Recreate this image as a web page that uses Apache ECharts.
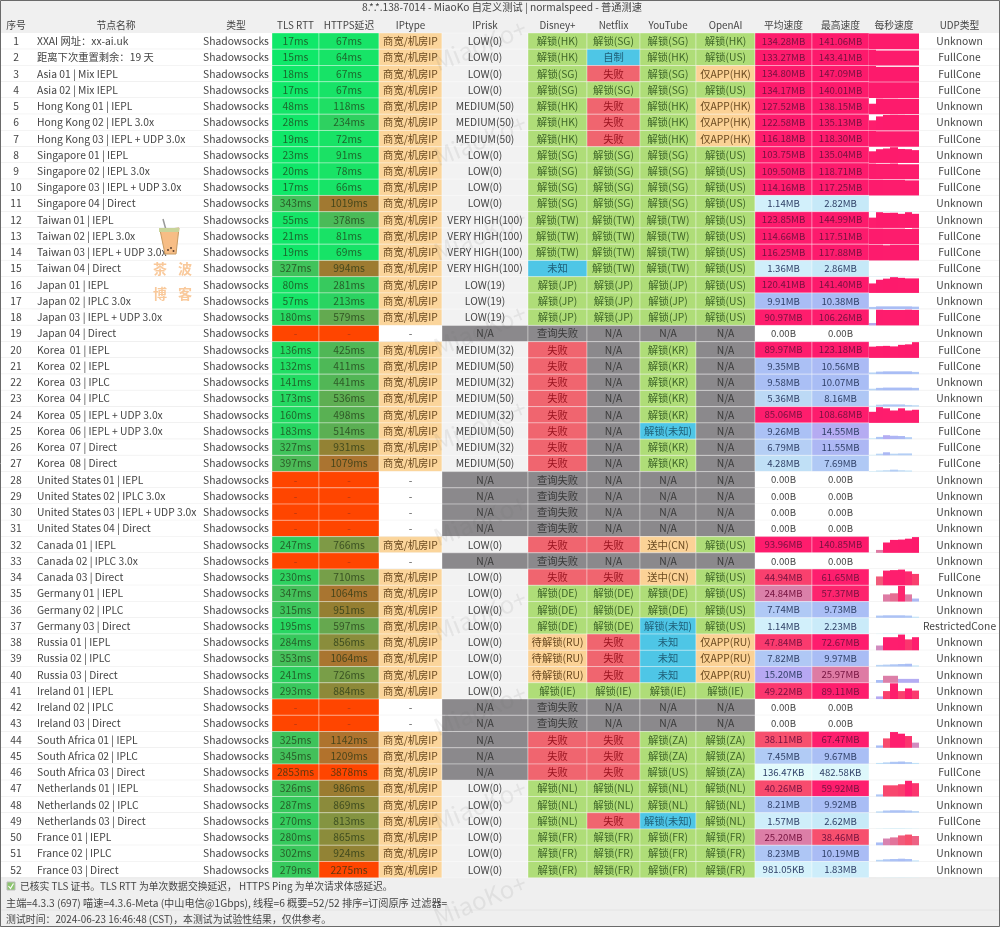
<!DOCTYPE html>
<html>
<head>
<meta charset="utf-8">
<title>MiaoKo</title>
<style>
  html, body { margin: 0; padding: 0; background: #f0f0f0; }
  #chart { width: 1000px; height: 927px; }
</style>
</head>
<body>
<div id="chart"></div>
<script src="https://cdn.jsdelivr.net/npm/echarts@6/dist/echarts.min.js"></script>
<script>
const headers = ['序号', '节点名称', '类型', 'TLS RTT', 'HTTPS延迟', 'IPtype', 'IPrisk', 'Disney+', 'Netflix', 'YouTube', 'OpenAI', '平均速度', '最高速度', '每秒速度', 'UDP类型'];

const nodeNames = ['XXAI 网址：xx-ai.uk', '距离下次重置剩余：19 天', 'Asia 01 | Mix IEPL', 'Asia 02 | Mix IEPL', 'Hong Kong 01 | IEPL', 'Hong Kong 02 | IEPL 3.0x', 'Hong Kong 03 | IEPL + UDP 3.0x', 'Singapore 01 | IEPL', 'Singapore 02 | IEPL 3.0x', 'Singapore 03 | IEPL + UDP 3.0x', 'Singapore 04 | Direct', 'Taiwan 01 | IEPL', 'Taiwan 02 | IEPL 3.0x', 'Taiwan 03 | IEPL + UDP 3.0x', 'Taiwan 04 | Direct', 'Japan 01 | IEPL', 'Japan 02 | IPLC 3.0x', 'Japan 03 | IEPL + UDP 3.0x', 'Japan 04 | Direct', 'Korea  01 | IEPL', 'Korea  02 | IEPL', 'Korea  03 | IPLC', 'Korea  04 | IPLC', 'Korea  05 | IEPL + UDP 3.0x', 'Korea  06 | IEPL + UDP 3.0x', 'Korea  07 | Direct', 'Korea  08 | Direct', 'United States 01 | IEPL', 'United States 02 | IPLC 3.0x', 'United States 03 | IEPL + UDP 3.0x', 'United States 04 | Direct', 'Canada 01 | IEPL', 'Canada 02 | IPLC 3.0x', 'Canada 03 | Direct', 'Germany 01 | IEPL', 'Germany 02 | IPLC', 'Germany 03 | Direct', 'Russia 01 | IEPL', 'Russia 02 | IPLC', 'Russia 03 | Direct', 'Ireland 01 | IEPL', 'Ireland 02 | IPLC', 'Ireland 03 | Direct', 'South Africa 01 | IEPL', 'South Africa 02 | IPLC', 'South Africa 03 | Direct', 'Netherlands 01 | IEPL', 'Netherlands 02 | IPLC', 'Netherlands 03 | Direct', 'France 01 | IEPL', 'France 02 | IPLC', 'France 03 | Direct'];

// null = 测试失败，显示 "-"
const tlsRtt = [17, 15, 18, 17, 48, 28, 19, 23, 20, 17, 343, 55, 21, 19, 327, 80, 57, 180, null, 136, 132, 141, 173, 160, 183, 327, 397, null, null, null, null, 247, null, 230, 347, 315, 195, 284, 353, 241, 293, null, null, 325, 345, 2853, 326, 287, 270, 280, 302, 279];
const httpsDelay = [67, 64, 67, 67, 118, 234, 72, 91, 78, 66, 1019, 378, 81, 69, 994, 281, 213, 579, null, 425, 411, 441, 536, 498, 514, 931, 1079, null, null, null, null, 766, null, 710, 1064, 951, 597, 856, 1064, 726, 884, null, null, 1142, 1209, 3878, 986, 869, 813, 865, 924, 2275];

const ipRisk = ['LOW(0)', 'LOW(0)', 'LOW(0)', 'LOW(0)', 'MEDIUM(50)', 'MEDIUM(50)', 'MEDIUM(50)', 'LOW(0)', 'LOW(0)', 'LOW(0)', 'LOW(0)', 'VERY HIGH(100)', 'VERY HIGH(100)', 'VERY HIGH(100)', 'VERY HIGH(100)', 'LOW(19)', 'LOW(19)', 'LOW(19)', 'N/A', 'MEDIUM(32)', 'MEDIUM(50)', 'MEDIUM(32)', 'MEDIUM(50)', 'MEDIUM(32)', 'MEDIUM(50)', 'MEDIUM(32)', 'MEDIUM(50)', 'N/A', 'N/A', 'N/A', 'N/A', 'LOW(0)', 'N/A', 'LOW(0)', 'LOW(0)', 'LOW(0)', 'LOW(0)', 'LOW(0)', 'LOW(0)', 'LOW(0)', 'LOW(0)', 'N/A', 'N/A', 'N/A', 'N/A', 'N/A', 'LOW(0)', 'LOW(0)', 'LOW(0)', 'LOW(0)', 'LOW(0)', 'LOW(0)'];

const disney = ['解锁(HK)', '解锁(HK)', '解锁(SG)', '解锁(SG)', '解锁(HK)', '解锁(HK)', '解锁(HK)', '解锁(SG)', '解锁(SG)', '解锁(SG)', '解锁(SG)', '解锁(TW)', '解锁(TW)', '解锁(TW)', '未知', '解锁(JP)', '解锁(JP)', '解锁(JP)', '查询失败', '失败', '失败', '失败', '失败', '失败', '失败', '失败', '失败', '查询失败', '查询失败', '查询失败', '查询失败', '失败', '查询失败', '失败', '解锁(DE)', '解锁(DE)', '解锁(DE)', '待解锁(RU)', '待解锁(RU)', '待解锁(RU)', '解锁(IE)', '查询失败', '查询失败', '失败', '失败', '失败', '解锁(NL)', '解锁(NL)', '解锁(NL)', '解锁(FR)', '解锁(FR)', '解锁(FR)'];
const netflix = ['解锁(SG)', '自制', '失败', '解锁(SG)', '失败', '失败', '失败', '解锁(SG)', '解锁(SG)', '解锁(SG)', '解锁(SG)', '解锁(TW)', '解锁(TW)', '解锁(TW)', '解锁(TW)', '解锁(JP)', '解锁(JP)', '解锁(JP)', 'N/A', 'N/A', 'N/A', 'N/A', 'N/A', 'N/A', 'N/A', 'N/A', 'N/A', 'N/A', 'N/A', 'N/A', 'N/A', '失败', 'N/A', '失败', '解锁(DE)', '解锁(DE)', '解锁(DE)', '失败', '失败', '失败', '解锁(IE)', 'N/A', 'N/A', '失败', '失败', '失败', '解锁(NL)', '解锁(NL)', '失败', '解锁(FR)', '解锁(FR)', '解锁(FR)'];
const youtube = ['解锁(SG)', '解锁(HK)', '解锁(SG)', '解锁(SG)', '解锁(HK)', '解锁(HK)', '解锁(HK)', '解锁(SG)', '解锁(SG)', '解锁(SG)', '解锁(SG)', '解锁(TW)', '解锁(TW)', '解锁(TW)', '解锁(TW)', '解锁(JP)', '解锁(JP)', '解锁(JP)', 'N/A', '解锁(KR)', '解锁(KR)', '解锁(KR)', '解锁(KR)', '解锁(KR)', '解锁(未知)', '解锁(KR)', '解锁(KR)', 'N/A', 'N/A', 'N/A', 'N/A', '送中(CN)', 'N/A', '送中(CN)', '解锁(DE)', '解锁(DE)', '解锁(未知)', '未知', '未知', '未知', '解锁(IE)', 'N/A', 'N/A', '解锁(ZA)', '解锁(ZA)', '解锁(US)', '解锁(NL)', '解锁(NL)', '解锁(未知)', '解锁(FR)', '解锁(FR)', '解锁(FR)'];
const openai = ['解锁(HK)', '解锁(US)', '仅APP(HK)', '解锁(US)', '仅APP(HK)', '仅APP(HK)', '仅APP(HK)', '解锁(US)', '解锁(US)', '解锁(US)', '解锁(US)', '解锁(US)', '解锁(US)', '解锁(US)', '解锁(US)', '解锁(US)', '解锁(US)', '解锁(US)', 'N/A', 'N/A', 'N/A', 'N/A', 'N/A', 'N/A', 'N/A', 'N/A', 'N/A', 'N/A', 'N/A', 'N/A', 'N/A', '解锁(US)', 'N/A', '解锁(US)', '解锁(US)', '解锁(US)', '解锁(US)', '仅APP(RU)', '仅APP(RU)', '仅APP(RU)', '解锁(IE)', 'N/A', 'N/A', '解锁(ZA)', '解锁(ZA)', '解锁(ZA)', '解锁(NL)', '解锁(NL)', '解锁(NL)', '解锁(FR)', '解锁(FR)', '解锁(FR)'];

// 单位 MB
const avgSpeed = [134.28, 133.27, 134.80, 134.17, 127.52, 122.58, 116.18, 103.75, 109.50, 114.16, 1.14, 123.85, 114.66, 116.25, 1.36, 120.41, 9.91, 90.97, 0, 89.97, 9.35, 9.58, 5.36, 85.06, 9.26, 6.79, 4.28, 0, 0, 0, 0, 93.96, 0, 44.94, 24.84, 7.74, 1.14, 47.84, 7.82, 15.20, 49.22, 0, 0, 38.11, 7.45, 0.13647, 40.26, 8.21, 1.57, 25.20, 8.23, 0.98105];
const maxSpeed = [141.06, 143.41, 147.09, 140.01, 138.15, 135.13, 118.30, 135.04, 118.71, 117.25, 2.82, 144.99, 117.51, 117.88, 2.86, 141.40, 10.38, 106.26, 0, 123.18, 10.56, 10.07, 8.16, 108.68, 14.55, 11.55, 7.69, 0, 0, 0, 0, 140.85, 0, 61.65, 57.37, 9.73, 2.23, 72.67, 9.97, 25.97, 89.11, 0, 0, 67.47, 9.67, 0.48258, 59.92, 9.92, 2.62, 38.46, 10.19, 1.83];

// 每秒速度，每行 7 格，单位 MB
const perSecond = [
  [141, 141, 141, 141, 141, 141, 141], [143, 136, 136, 136, 136, 136, 136], [147, 139, 139, 139, 139, 139, 139], [140, 140, 140, 140, 140, 140, 140],
  [90, 135, 134, 134, 133, 133, 133], [85, 118, 130, 132, 131, 130, 130], [118, 116, 116, 116, 116, 116, 116], [100, 118, 124, 135, 120, 118, 110],
  [118, 116, 116, 118, 112, 112, 112], [117, 117, 116, 116, 116, 112, 112], [0.9, 1.1, 1.4, 1.2, 1.1, 1.1, 0.9], [95, 145, 139, 140, 130, 145, 130],
  [117, 117, 116, 116, 116, 113, 116], [117, 117, 113, 117, 117, 117, 117], [1.1, 1.3, 1.5, 1.4, 1.3, 1.2, 1.1], [85, 118, 128, 141, 135, 130, 130],
  [8, 10, 10, 10, 10, 10, 9], [16, 106, 104, 104, 104, 106, 104], [0, 0, 0, 0, 0, 0, 0], [88, 92, 94, 90, 102, 106, 123],
  [6, 9, 10, 10, 10, 10, 8], [6, 9, 10, 10, 10, 10, 9], [3, 7, 8, 8, 8, 6, 5], [76, 108, 100, 85, 100, 85, 90],
  [3, 8, 14, 12, 11, 7, 0], [2, 6, 11, 6, 7, 7, 0], [2, 4, 5, 7, 5, 4, 0], [0, 0, 0, 0, 0, 0, 0],
  [0, 0, 0, 0, 0, 0, 0], [0, 0, 0, 0, 0, 0, 0], [0, 0, 0, 0, 0, 0, 0], [0, 26, 92, 115, 118, 126, 140],
  [0, 0, 0, 0, 0, 0, 0], [0, 35, 58, 60, 62, 55, 45], [0, 0, 26, 30, 57, 26, 11], [0, 8, 9, 9, 9, 8, 4],
  [0, 1, 2, 2, 2, 1, 1], [0, 22, 60, 60, 72, 50, 60], [0, 6, 7, 8, 9, 10, 4], [0, 10, 25, 25, 14, 14, 14],
  [0, 15, 45, 89, 45, 60, 48], [0, 0, 0, 0, 0, 0, 0], [0, 0, 0, 0, 0, 0, 0], [0, 10, 40, 67, 60, 50, 22],
  [0, 4, 6, 8, 9, 7, 4], [0, 0.2, 0.3, 0.4, 0.3, 0.2, 0.1], [0, 8, 42, 42, 46, 59, 50], [0, 5, 8, 9, 9, 8, 6],
  [0, 1, 1.6, 2, 2, 1.6, 1], [0, 10, 24, 28, 35, 38, 33], [0, 6, 8, 9, 10, 9, 4], [0, 0.4, 0.8, 1, 1.2, 1, 0.8]
];

const udpType = ['Unknown', 'FullCone', 'FullCone', 'FullCone', 'Unknown', 'Unknown', 'FullCone', 'Unknown', 'FullCone', 'FullCone', 'Unknown', 'Unknown', 'FullCone', 'FullCone', 'FullCone', 'Unknown', 'Unknown', 'FullCone', 'Unknown', 'FullCone', 'FullCone', 'Unknown', 'Unknown', 'FullCone', 'FullCone', 'FullCone', 'FullCone', 'Unknown', 'Unknown', 'Unknown', 'Unknown', 'Unknown', 'Unknown', 'FullCone', 'Unknown', 'Unknown', 'RestrictedCone', 'Unknown', 'Unknown', 'Unknown', 'Unknown', 'Unknown', 'Unknown', 'Unknown', 'Unknown', 'FullCone', 'Unknown', 'Unknown', 'FullCone', 'Unknown', 'Unknown', 'Unknown'];

const titleText = '8.*.*.138-7014 - MiaoKo 自定义测试 | normalspeed - 普通测速';
const footerLines = [
  '已核实 TLS 证书。TLS RTT 为单次数据交换延迟， HTTPS Ping 为单次请求体感延迟。',
  '主端=4.3.3 (697) 喵速=4.3.6-Meta (中山电信@1Gbps), 线程=6 概要=52/52 排序=订阅原序 过滤器=',
  '测试时间：2024-06-23 16:46:48 (CST)，本测试为试验性结果，仅供参考。'
];

const FONT = '"Noto Sans CJK SC", "Noto Sans", sans-serif';
const colEdges = [0, 32, 200, 272, 319, 379, 442, 528, 587, 640, 696, 755, 812, 869, 919, 1000];
const SPARK_COL = 13;
const SPARK_FLOOR = 56; // 低于这个速度的行不再按自身最大值撑满

const latencyStops = [[0, '#0de96a'], [120, '#1fdf64'], [240, '#2fd060'], [380, '#4abb58'], [600, '#66a84f'], [770, '#7f9a46'], [950, '#957f32'], [1070, '#aa7430'], [1300, '#b8702a'], [2000, '#f0591a'], [2275, '#ff4500']];
const speedStops = [[0.0001, '#e6fcfb'], [0.14, '#e2fbfb'], [1.14, '#d2f0fb'], [2.8, '#c6e9f8'], [5.4, '#bcd9f5'], [7.7, '#b0c9f5'], [10, '#a9bdf5'], [15.2, '#b7a8f2'], [25, '#dc7fa8'], [38, '#f7506e'], [60, '#fe1e6e'], [150, '#fd1a6c']];

function rampColor(stops, v) {
  if (v <= stops[0][0]) return stops[0][1];
  for (let i = 1; i < stops.length; i++) {
    if (v <= stops[i][0]) {
      const t = (v - stops[i - 1][0]) / (stops[i][0] - stops[i - 1][0]);
      return echarts.color.lerp(t, [stops[i - 1][1], stops[i][1]]);
    }
  }
  return stops[stops.length - 1][1];
}

function speedLabel(mb) {
  if (mb === 0) return '0.00B';
  if (mb < 1) return (mb * 1000).toFixed(2) + 'KB';
  return mb.toFixed(2) + 'MB';
}

function unlockStyle(text) {
  if (text === 'N/A' || text === '查询失败') return { fill: '#8b898c', color: '#3a3a3a' };
  if (text === '失败') return { fill: '#f0656f', color: '#9a1420' };
  if (text === '自制' || text === '未知' || text === '解锁(未知)') return { fill: '#4ec6e6', color: '#1f5f78' };
  if (text.indexOf('仅APP') === 0 || text.indexOf('待解锁') === 0 || text.indexOf('送中') === 0) return { fill: '#fbd296', color: '#6b4a20' };
  return { fill: '#afdd78', color: '#3f6628' };
}

function latencyCell(v) {
  if (v === null) return { text: '-', fill: '#ff4500', color: '#b8350f' };
  return { text: v + 'ms', fill: rampColor(latencyStops, v), color: 'rgba(30,50,20,0.72)' };
}

function speedCell(mb) {
  if (mb === 0) return { text: '0.00B', fill: '#ffffff', color: '#444', size: 9.6 };
  return { text: speedLabel(mb), fill: rampColor(speedStops, mb), color: mb >= 20 ? '#74123f' : '#2e3f66', size: 9.6 };
}

// 组装单元格：[列, 行]，行 -1 是表头
const cells = [];
headers.forEach(function (h, c) {
  cells.push({ col: c, row: -1, text: h, fill: null, color: '#444', size: 9.8 });
});
nodeNames.forEach(function (name, r) {
  const hasIp = tlsRtt[r] !== null;
  const risk = ipRisk[r];
  const rowCells = [
    { text: String(r + 1), fill: '#ffffff', color: '#444' },
    { text: name, fill: '#ffffff', color: '#444', left: true },
    { text: 'Shadowsocks', fill: '#ffffff', color: '#444' },
    latencyCell(tlsRtt[r]),
    latencyCell(httpsDelay[r]),
    hasIp ? { text: '商宽/机房IP', fill: '#fbd59b', color: '#6b4a20' } : { text: '-', fill: '#ffffff', color: '#555' },
    risk === 'N/A' ? { text: risk, fill: '#8b898c', color: '#3a3a3a' } : { text: risk, fill: '#f2f2f2', color: '#444' },
    Object.assign({ text: disney[r] }, unlockStyle(disney[r])),
    Object.assign({ text: netflix[r] }, unlockStyle(netflix[r])),
    Object.assign({ text: youtube[r] }, unlockStyle(youtube[r])),
    Object.assign({ text: openai[r] }, unlockStyle(openai[r])),
    speedCell(avgSpeed[r]),
    speedCell(maxSpeed[r]),
    { text: '', fill: '#ffffff', color: '#444' },
    { text: udpType[r], fill: '#ffffff', color: '#444' }
  ];
  rowCells.forEach(function (cell, c) {
    cell.col = c;
    cell.row = r;
    cells.push(cell);
  });
});

function renderCell(params, api) {
  const cell = cells[params.dataIndex];
  const a = api.coord([colEdges[cell.col], cell.row]);
  const b = api.coord([colEdges[cell.col + 1], cell.row + 1]);
  const children = [];
  const white = cell.fill === '#ffffff';
  if (cell.fill) {
    children.push({
      type: 'rect',
      shape: { x: a[0], y: a[1], width: b[0] - a[0], height: b[1] - a[1] },
      style: white ? { fill: cell.fill } : { fill: cell.fill, stroke: 'rgba(255,255,255,0.35)', lineWidth: 1 }
    });
    if (white) {
      children.push({
        type: 'line',
        shape: { x1: a[0], y1: b[1], x2: b[0], y2: b[1] },
        style: { stroke: '#e8e8e8', lineWidth: 1 }
      });
    }
  }
  if (cell.text) {
    children.push({
      type: 'text',
      z2: 5,
      style: {
        text: cell.text,
        x: cell.left ? a[0] + 5 : (a[0] + b[0]) / 2,
        y: (a[1] + b[1]) / 2,
        align: cell.left ? 'left' : 'center',
        verticalAlign: 'middle',
        fill: cell.color,
        fontFamily: FONT,
        fontSize: cell.size || 10.3
      }
    });
  }
  return { type: 'group', children: children };
}

// 每秒速度小图：[行, 格, 速度]
const sparkData = [];
perSecond.forEach(function (bins, r) {
  bins.forEach(function (v, i) {
    if (v > 0) sparkData.push([r, i, v]);
  });
});

function renderSpark(params, api) {
  const r = api.value(0), i = api.value(1), v = api.value(2);
  const left = colEdges[SPARK_COL];
  const binW = (colEdges[SPARK_COL + 1] - left) / 7;
  const a = api.coord([left + i * binW, r]);
  const b = api.coord([left + (i + 1) * binW, r + 1]);
  const top = Math.max.apply(null, perSecond[r].concat(SPARK_FLOOR));
  const h = (b[1] - a[1] - 0.5) * v / top;
  const x0 = Math.round(a[0]), x1 = Math.round(b[0]);
  return {
    type: 'rect',
    shape: { x: x0, y: b[1] - h, width: x1 - x0, height: h },
    style: { fill: rampColor(speedStops, v) }
  };
}

function watermark(y) {
  return {
    type: 'text',
    x: 480, y: y,
    rotation: 22 * Math.PI / 180,
    z: 20,
    silent: true,
    style: { text: 'MiaoKo+', align: 'center', verticalAlign: 'middle', fontFamily: FONT, fontSize: 24, fill: 'rgba(110,110,110,0.11)' }
  };
}

function logoText(text, x, y) {
  return {
    type: 'text', x: x, y: y, z: 15,
    style: { text: text, align: 'center', verticalAlign: 'middle', fontFamily: FONT, fontSize: 14, fontWeight: 'bold', fill: '#f9c99b' }
  };
}

const graphics = [
  { type: 'rect', z: 0, shape: { x: 0, y: 878, width: 1000, height: 49 }, style: { fill: '#efefef' } },
  { type: 'line', z: 1, shape: { x1: 0, y1: 910, x2: 1000, y2: 910 }, style: { stroke: '#e4e4e4' } },
  { type: 'rect', z: 11, shape: { x: 7, y: 882, width: 8, height: 8 }, style: { fill: '#8cc56e', stroke: '#bbb' } },
  { type: 'polyline', z: 12, shape: { points: [[8.5, 886], [10.5, 888.5], [13.5, 883.5]] }, style: { stroke: '#fff', fill: 'none', lineWidth: 1.2 } },
  { type: 'text', z: 11, x: 20, y: 886, style: { text: footerLines[0], verticalAlign: 'middle', fontFamily: FONT, fontSize: 9.8, fill: '#444' } },
  { type: 'text', z: 11, x: 6, y: 903, style: { text: footerLines[1], verticalAlign: 'middle', fontFamily: FONT, fontSize: 10.2, fill: '#444' } },
  { type: 'text', z: 11, x: 6, y: 919, style: { text: footerLines[2], verticalAlign: 'middle', fontFamily: FONT, fontSize: 9.9, fill: '#444' } },
  // 奶茶小图标
  { type: 'line', z: 15, shape: { x1: 163, y1: 219, x2: 166, y2: 230 }, style: { stroke: '#999', lineWidth: 1.5 } },
  { type: 'polygon', z: 15, shape: { points: [[160, 230], [179, 228], [176, 254], [165, 254]] }, style: { fill: '#f7bd85', stroke: '#c89a60' } },
  { type: 'rect', z: 15, shape: { x: 159, y: 228, width: 20, height: 4 }, style: { fill: '#c9d49a' } },
  { type: 'circle', z: 16, shape: { cx: 168, cy: 250, r: 1 }, style: { fill: '#5a4030' } },
  { type: 'circle', z: 16, shape: { cx: 171, cy: 248, r: 1 }, style: { fill: '#5a4030' } },
  { type: 'circle', z: 16, shape: { cx: 173.5, cy: 251, r: 1 }, style: { fill: '#5a4030' } },
  logoText('茶', 160, 269), logoText('波', 185, 269), logoText('博', 160, 294), logoText('客', 185, 294),
  { type: 'rect', z: 30, silent: true, shape: { x: 0.5, y: 0.5, width: 999, height: 926 }, style: { fill: 'none', stroke: '#6a6a6a', lineWidth: 1 } }
];
[45, 140, 235, 330, 425, 520, 615, 710, 805, 900].forEach(function (y) { graphics.push(watermark(y)); });

const chart = echarts.init(document.getElementById('chart'));
chart.setOption({
  animation: false,
  backgroundColor: '#f0f0f0',
  title: { text: titleText, left: 362, top: 2, padding: 0, textStyle: { fontFamily: FONT, fontSize: 10.2, fontWeight: 'normal', color: '#444' } },
  grid: { left: 0, right: 0, top: 16.755, height: 860.995 },
  xAxis: { type: 'value', min: 0, max: 1000, show: false },
  yAxis: { type: 'value', min: -1, max: 52, inverse: true, show: false },
  series: [
    { type: 'custom', renderItem: renderCell, clip: false, silent: true, z: 2, data: cells.map(function (c) { return [c.col, c.row]; }) },
    { type: 'custom', renderItem: renderSpark, clip: false, silent: true, z: 3, data: sparkData }
  ],
  graphic: graphics
});
</script>
</body>
</html>
